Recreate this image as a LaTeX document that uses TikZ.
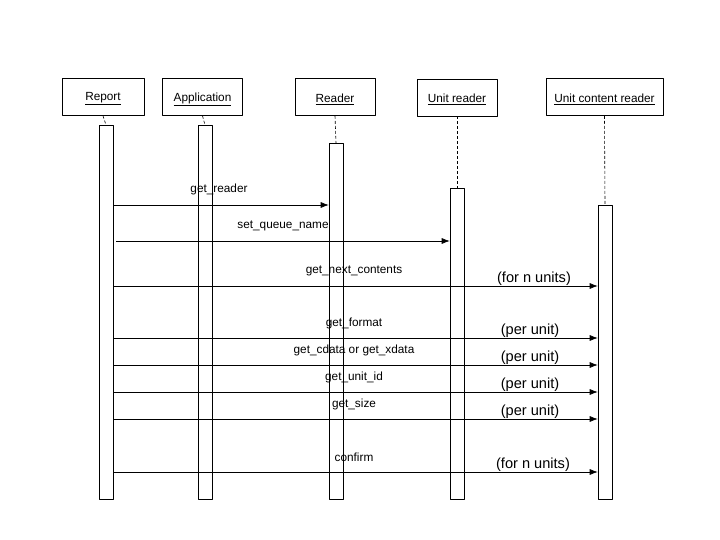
\documentclass[tikz,border=0pt]{standalone}
\usepackage{fontspec}
\setmainfont{Liberation Sans}
\usetikzlibrary{arrows.meta}
\tikzset{
	obj/.style={draw, line width=0.6pt, minimum width=#1, minimum height=37pt, inner sep=0pt},
	actbar/.style={draw, line width=0.6pt, minimum width=14pt, minimum height=#1, inner sep=0pt, anchor=north},
	life/.style={line width=0.6pt, dash pattern=on 3pt off 2pt},
	msg/.style={-{Latex[length=8pt,width=6pt]}, line width=0.6pt},
	lbl/.style={inner sep=1pt},
	note/.style={inner sep=1pt, font=\fontsize{14.6}{16}\selectfont}
}
\begin{document}
\begin{tikzpicture}[x=1pt, y=-1pt, font=\fontsize{11.8}{13}\selectfont, line join=round]
		\useasboundingbox (0,0) rectangle (720,540);
		% objects
		\node[obj=82pt] (rep) at (103,97) {};
		\node[obj=80pt] (app) at (202.5,97) {};
		\node[obj=80pt] (rdr) at (335,97) {};
		\node[obj=80pt] (ur) at (457,97.5) {};
		\node[obj=117pt] (ucr) at (604.5,97) {};
		\foreach \o/\t in {rep/Report, app/Application, rdr/Reader, ur/Unit reader, ucr/Unit content reader}
			\node[lbl] at ([yshift=-2pt]\o.center) {\underline{\t}};
		% activation bars
		\node[actbar=374pt] (repbar) at (106,125) {};
		\node[actbar=374pt] (appbar) at (205,125) {};
		\node[actbar=356pt] (rdrbar) at (336,143) {};
		\node[actbar=311pt] (urbar) at (457,188) {};
		\node[actbar=294pt] (ucrbar) at (605,205) {};
		\foreach \o in {rep,app,rdr,ur,ucr}\draw[life] (\o.south) -- (\o bar.north);
		% messages
		\coordinate (m1) at (0,205);
		\coordinate (m2) at (0,241);
		\draw[msg] (repbar.east |- m1) -- (rdrbar.west |- m1);
		\node[lbl] at (219,189) {get\_reader};
		\draw[msg] ([xshift=3pt]repbar.east |- m2) -- (urbar.west |- m2);
		\node[lbl] at (283,226) {set\_queue\_name};
		\foreach \y/\t/\n/\x in {286/get\_next\_contents/(for n units)/534, 338/get\_format/(per unit)/530, 365/get\_cdata or get\_xdata/(per unit)/530, 392/get\_unit\_id/(per unit)/530, 419/get\_size/(per unit)/530, 472/confirm/(for n units)/533}{
			\coordinate (m) at (0,\y);
			\draw[msg] (repbar.east |- m) -- (ucrbar.west |- m);
			\node[lbl] at (354,\y-15) {\t};
			\node[note] at (\x,\y-7.5) {\n};
		}
\end{tikzpicture}
\end{document}
